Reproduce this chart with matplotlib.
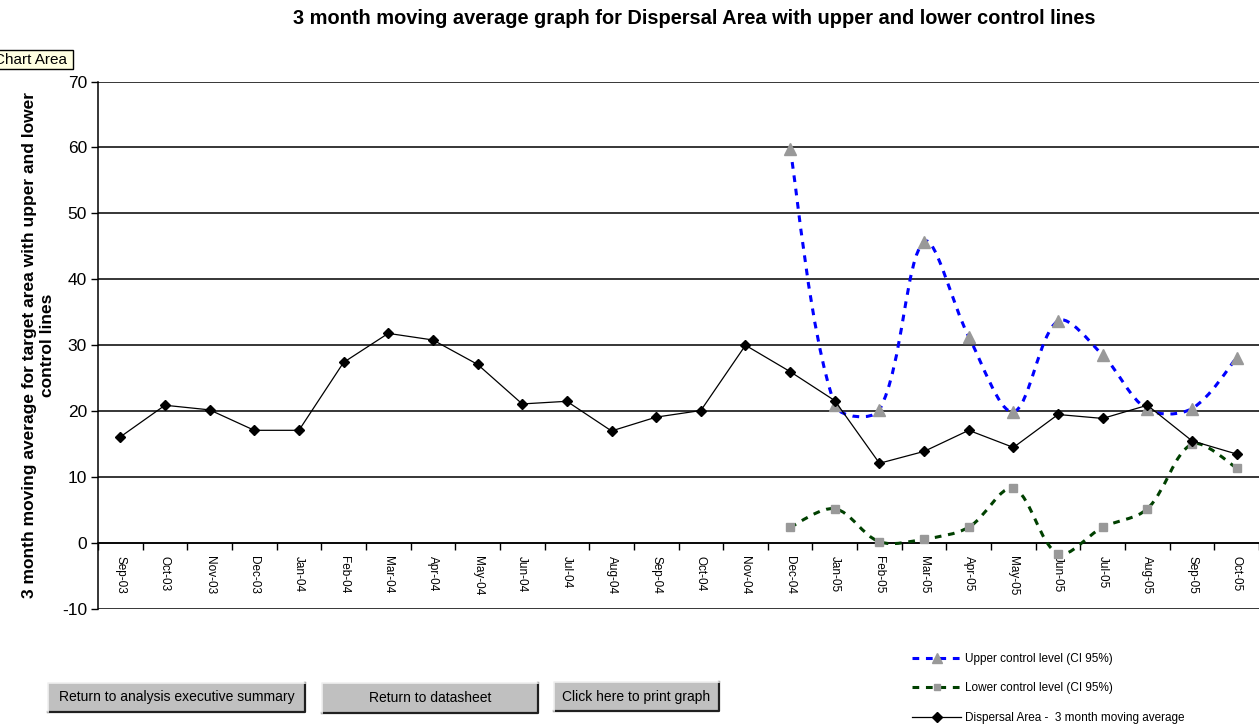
import numpy as np
import matplotlib
matplotlib.use("Agg")
import matplotlib.pyplot as plt
from matplotlib.path import Path
from matplotlib.patches import PathPatch, Rectangle
from matplotlib.lines import Line2D

plt.rcParams['font.family'] = ['Liberation Sans', 'DejaVu Sans']

# months shown on the category axis
months = ['Sep-03', 'Oct-03', 'Nov-03', 'Dec-03', 'Jan-04', 'Feb-04', 'Mar-04',
          'Apr-04', 'May-04', 'Jun-04', 'Jul-04', 'Aug-04', 'Sep-04', 'Oct-04',
          'Nov-04', 'Dec-04', 'Jan-05', 'Feb-05', 'Mar-05', 'Apr-05', 'May-05',
          'Jun-05', 'Jul-05', 'Aug-05', 'Sep-05', 'Oct-05']

# 3 month moving average for the dispersal area
moving_avg = [16.1, 20.9, 20.2, 17.1, 17.1, 27.4, 31.8, 30.8, 27.1, 21.1, 21.5,
              17.0, 19.1, 20.1, 30.0, 26.0, 21.6, 12.1, 13.9, 17.1, 14.5, 19.5,
              18.9, 20.9, 15.5, 13.5]

# control levels only exist from Dec-04 onward
ctrl_start = 15
upper_ctrl = [59.8, 20.9, 20.2, 45.7, 31.3, 19.9, 33.7, 28.5, 20.3, 20.4, 28.1]
lower_ctrl = [2.4, 5.2, 0.2, 0.6, 2.4, 8.3, -1.6, 2.4, 5.2, 15.0, 11.4]

y_ticks = list(range(-10, 71, 10))

W, H = 1259, 724


def smooth_path(xs, ys, sx, sy):
    """Smoothed line like Excel: chord weighted cardinal spline as beziers.
    sx, sy are pixels per data unit, used only to weigh the chord lengths."""
    pts = np.column_stack([xs, ys]).astype(float)
    n = len(pts)

    def dist(a, b):
        return np.hypot((a[0] - b[0]) * sx, (a[1] - b[1]) * sy)

    verts = [pts[0]]
    codes = [Path.MOVETO]
    for i in range(n - 1):
        p0 = pts[i - 1] if i > 0 else pts[i]
        p1 = pts[i]
        p2 = pts[i + 1]
        p3 = pts[i + 2] if i + 2 < n else pts[i + 1]
        d01, d12, d23 = dist(p0, p1), dist(p1, p2), dist(p2, p3)
        w1 = d12 / (d01 + d12) if d01 > 0 else 0.5
        w2 = d12 / (d12 + d23) if d23 > 0 else 0.5
        c1 = p1 + (p2 - p0) * w1 / 3.0
        c2 = p2 - (p3 - p1) * w2 / 3.0
        verts += [c1, c2, p2]
        codes += [Path.CURVE4] * 3
    return Path(verts, codes)


fig = plt.figure(figsize=(W / 100, H / 100), dpi=100)
ax_box = [98 / W, 1 - 609 / H, 1 - 98 / W, (609 - 81.5) / H]
ax = fig.add_axes(ax_box)

x = np.arange(len(months))
xc = x[ctrl_start:]

xlim = (-0.5, len(months) - 0.5)
ylim = (-10, 70)
sx = ax_box[2] * W / (xlim[1] - xlim[0])
sy = ax_box[3] * H / (ylim[1] - ylim[0])

blue = '#0000FF'
green = '#004000'
grey = '#999999'
dash = (0, (2.2, 2.2))

up_patch = PathPatch(smooth_path(xc, upper_ctrl, sx, sy), fill=False, edgecolor=blue,
                     lw=2.2, linestyle=dash, zorder=3)
lo_patch = PathPatch(smooth_path(xc, lower_ctrl, sx, sy), fill=False, edgecolor=green,
                     lw=2.2, linestyle=dash, zorder=3)
ax.add_patch(up_patch)
ax.add_patch(lo_patch)
ax.plot(xc, upper_ctrl, ls='none', marker='^', ms=8, color=grey, zorder=4)
ax.plot(xc, lower_ctrl, ls='none', marker='s', ms=6, color=grey, zorder=4)
ax.plot(x, moving_avg, color='black', lw=0.9, marker='D', ms=5.5, zorder=5)

ax.set_xlim(*xlim)
ax.set_ylim(*ylim)
ax.set_yticks(y_ticks)
ax.set_yticklabels([str(v) for v in y_ticks], fontsize=12.5)
ax.yaxis.grid(True, color='black', lw=1.1)
ax.set_axisbelow(True)
ax.tick_params(axis='y', direction='out', length=5, width=1, pad=3)

# category axis crosses at zero
ax.spines['bottom'].set_position(('data', 0))
ax.spines['bottom'].set_linewidth(1.1)
ax.spines['top'].set_visible(False)
ax.spines['right'].set_visible(False)
ax.spines['left'].set_linewidth(1.1)
ax.set_xticks(x)
ax.set_xticklabels(months, rotation=-90, fontsize=8.5, va='top', ha='center')
ax.set_xticks(np.arange(-0.5, len(months), 1.0), minor=True)
ax.tick_params(axis='x', which='major', length=0, pad=9)
ax.tick_params(axis='x', which='minor', direction='out', length=5, width=1)

ax.set_ylabel('3 month moving average for target area with upper and lower\ncontrol lines',
              fontsize=12.5, fontweight='bold', labelpad=5, linespacing=1.2)

fig.text(694 / W, 1 - 18 / H,
         '3 month moving average graph for Dispersal Area with upper and lower control lines',
         ha='center', va='center', fontsize=14.4, fontweight='bold')

# "Chart Area" tooltip, cut off at the left edge like in the screenshot
fig.patches.append(Rectangle((-10 / W, 1 - 69 / H), 83 / W, 19 / H,
                             transform=fig.transFigure, facecolor='#FFFFE1',
                             edgecolor='black', lw=1))
fig.text(67 / W, 1 - 59.5 / H, 'Chart Area', ha='right', va='center', fontsize=11)

# legend
handles = [
    Line2D([], [], color=blue, lw=2.2, linestyle=dash, marker='^', ms=7,
           markerfacecolor=grey, markeredgecolor=grey),
    Line2D([], [], color=green, lw=2.2, linestyle=dash, marker='s', ms=5,
           markerfacecolor=grey, markeredgecolor=grey),
    Line2D([], [], color='black', lw=0.9, marker='D', ms=5),
]
labels = ['Upper control level (CI 95%)', 'Lower control level (CI 95%)',
          'Dispersal Area -  3 month moving average']
fig.legend(handles, labels, loc='upper left', bbox_to_anchor=(907 / W, 1 - 648 / H),
           frameon=False, fontsize=8.5, handlelength=4.2, handletextpad=0.3,
           labelspacing=1.5, borderaxespad=0)


def button(x0, y0, x1, y1, text):
    fig.patches.append(Rectangle((x0 / W, 1 - y1 / H), (x1 - x0) / W, (y1 - y0) / H,
                                 transform=fig.transFigure, facecolor='#C0C0C0',
                                 edgecolor='none'))
    fig.add_artist(Line2D([x0 / W, x1 / W, x1 / W], [1 - y1 / H, 1 - y1 / H, 1 - y0 / H],
                          transform=fig.transFigure, color='#202020', lw=1.6))
    fig.add_artist(Line2D([x0 / W, x0 / W, x1 / W], [1 - y1 / H, 1 - y0 / H, 1 - y0 / H],
                          transform=fig.transFigure, color='#F0F0F0', lw=1.2))
    fig.text((x0 + x1) / 2 / W, 1 - (y0 + y1) / 2 / H, text, ha='center', va='center',
             fontsize=10)


button(48, 683, 305, 712, 'Return to analysis executive summary')
button(322, 683, 538, 713, 'Return to datasheet')
button(554, 682, 719, 711, 'Click here to print graph')

fig.savefig('out.png', dpi=100)
